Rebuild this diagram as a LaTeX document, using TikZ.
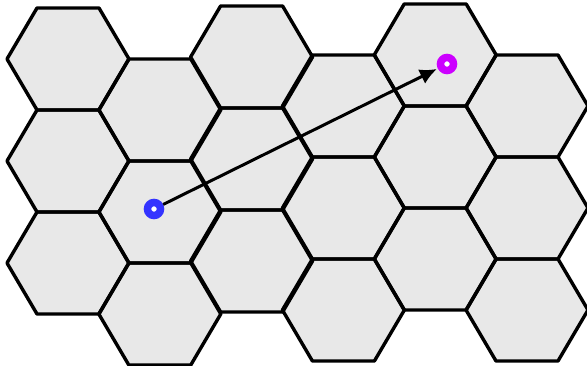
\documentclass[tikz,border=0pt]{standalone}
\usetikzlibrary{arrows.meta}
\definecolor{cellgray}{HTML}{E8E8E8}
\definecolor{startblue}{HTML}{3333FF}
\definecolor{goalpink}{HTML}{CC00FF}
\newcommand\cellpath[2]{(#1,#2) -- ++(62,0) -- ++(30,51) -- ++(-30,51) -- ++(-62,0) -- ++(-30,-51) -- cycle}
\tikzset{
  cellfill/.style={fill=cellgray},
  celledge/.style={draw=black, line width=3.4pt, line join=round},
  spot/.style={circle, draw=#1, fill=white, line width=7.5pt, minimum size=13pt, inner sep=0pt},
}
\begin{document}
\begin{tikzpicture}[x=1pt,y=-1pt]
  \useasboundingbox (0,0) rectangle (587,366);
  % columns of hex cells: column index / top edge; fills first, then edges
  \foreach \layer in {cellfill,celledge}{
    \foreach \c/\t in {0/8, 1/59, 2/6, 3/55, 4/4, 5/55}{
      \foreach \r in {0,1,2}{
        \pgfmathsetmacro{\xl}{37+91.8*\c}
        \pgfmathsetmacro{\yt}{\t+102*\r}
        \path[\layer] \cellpath{\xl}{\yt};
      }
    }
  }
  \node[spot=startblue] (s) at (154,209) {};
  \node[spot=goalpink] (g) at (447,64) {};
  \draw[-{Latex[length=17pt,width=16pt]}, line width=3pt, shorten >=1pt] (s) -- (g);
\end{tikzpicture}
\end{document}
